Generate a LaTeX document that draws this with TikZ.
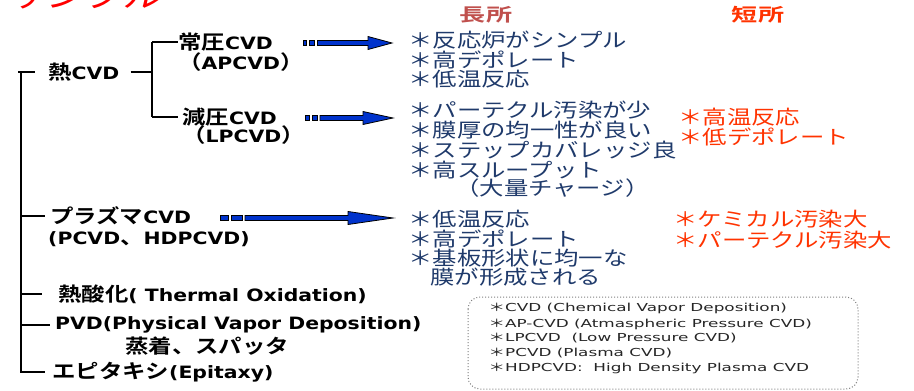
\documentclass[tikz,border=0pt]{standalone}
\usepackage{fontspec}
\setmainfont{DejaVu Sans}
\newfontfamily\jpf{Noto Sans CJK JP}[BoldFont={Noto Sans CJK JP Bold}]
\usetikzlibrary{calc}
\definecolor{navy}{HTML}{1F3A6B}
\definecolor{hdrred}{HTML}{C0504D}
\definecolor{orred}{HTML}{FF3300}
\definecolor{arrblue}{HTML}{0033CC}
\definecolor{boxgray}{HTML}{808080}
\newcommand\jb[1]{{\jpf\fontsize{19.5}{17}\selectfont #1}}
\tikzset{
  tree/.style={line width=1.4pt, draw=black},
  lbl/.style={anchor=west, inner sep=0pt, font=\fontsize{17}{17}\selectfont\bfseries, xscale=1.2},
  good/.style={anchor=west, inner sep=0pt, text=navy, font=\fontsize{19.5}{19.5}\selectfont\jpf, xscale=1.25},
  bad/.style={good, text=orred},
  hdr/.style={inner sep=0pt, font=\fontsize{18}{18}\selectfont\jpf\bfseries, xscale=1.45},
  note/.style={anchor=west, inner sep=0pt, text=black!85, font=\fontsize{11}{11}\selectfont, xscale=1.53},
  arrfill/.style={fill=arrblue, draw=black, line width=0.8pt},
}
\newcommand\fatarrow[5]{%
  \filldraw[arrfill] ($(#1)+(0,-2.5)$) rectangle ($(#1)+(#3,2.5)$);
  \filldraw[arrfill] ($(#1)+({#3+3},-2.5)$) rectangle ($(#1)+({#3+3+#4},2.5)$);
  \filldraw[arrfill] ($(#1)+({#3+#4+6},-2.5)$) -- ($(#2)+(-#5,-2.5)$) -- ($(#2)+(-#5,-6.5)$) -- (#2)
     -- ($(#2)+(-#5,6.5)$) -- ($(#2)+(-#5,2.5)$) -- ($(#1)+({#3+#4+6},2.5)$) -- cycle;}
\begin{document}
\begin{tikzpicture}[x=1pt,y=-1pt]
\useasboundingbox (0,0) rectangle (914,391);
\clip (0,0) rectangle (914,391);
\fill[white] (0,0) rectangle (914,391);

% partially visible title
\node[anchor=base west, inner sep=0pt, text=red, font=\fontsize{34}{34}\selectfont\jpf, xscale=1.15, xslant=0.2] (title) at (6,7) {サンプル};

% headers
\node[hdr, text=hdrred] (pros) at (486,15) {長所};
\node[hdr, text=orred] (cons) at (758,15) {短所};

% tree labels
\node[lbl] (thermal) at (48,72) {\jb{熱}CVD};
\node[lbl] (ap) at (178,42) {\jb{常圧}CVD};
\node[lbl] (apsub) at (178,62) {\jb{（}APCVD\jb{）}};
\node[lbl] (lp) at (182,117) {\jb{減圧}CVD};
\node[lbl] (lpsub) at (182,135) {\jb{（}LPCVD\jb{）}};
\node[lbl] (plasma) at (50,216) {\jb{プラズマ}CVD};
\node[lbl] (plsub) at (48,239) {(PCVD\jb{、}HDPCVD)};
\node[lbl] (oxid) at (58,294) {\jb{熱酸化}( Thermal Oxidation)};
\node[lbl] (pvd) at (55,325) {PVD(Physical Vapor Deposition)};
\node[lbl] (pvdsub) at (125,346) {\jb{蒸着、スパッタ}};
\node[lbl] (epi) at (52,372) {\jb{エピタキシ}(Epitaxy)};

% tree lines
\coordinate (trunk) at (21,72);
\coordinate (branch) at (152,72);
\draw[tree] (trunk) -- (trunk |- epi.west) -- ([xshift=-7pt]epi.west);
\draw[tree] ([xshift=-3pt]trunk) -- ([xshift=-13pt]thermal.west);
\draw[tree] (trunk |- plasma.west) -- ([xshift=-5pt]plasma.west);
\draw[tree] (trunk |- oxid.west) -- ([xshift=-16pt]oxid.west);
\draw[tree] (trunk |- pvd.west) -- ([xshift=-5pt]pvd.west);
\draw[tree] ([xshift=11pt]thermal.east) -- (branch);
\draw[tree] (branch |- ap.west) -- (branch |- lp.west);
\draw[tree] (branch |- ap.west) -- (ap.west);
\draw[tree] (branch |- lp.west) -- ([xshift=-4pt]lp.west);

% arrows
\coordinate (a1s) at (303,43); \coordinate (a1e) at (392,43);
\coordinate (a2s) at (305,118); \coordinate (a2e) at (393,118);
\coordinate (a3s) at (220,218); \coordinate (a3e) at (393,218);
\fatarrow{a1s}{a1e}{3.5}{5}{24}
\fatarrow{a2s}{a2e}{4}{5}{30}
\fatarrow{a3s}{a3e}{8}{11}{45}

% advantages
\node[good] (g1) at (408,40) {＊反応炉がシンプル};
\node[good] (g2) at (408,60) {＊高デポレート};
\node[good] (g3) at (408,79) {＊低温反応};
\node[good] (g4) at (408,110) {＊パーテクル汚染が少};
\node[good] (g5) at (408,130) {＊膜厚の均一性が良い};
\node[good] (g6) at (408,150) {＊ステップカバレッジ良};
\node[good] (g7) at (408,170) {＊高スループット};
\node[good] (g8) at (455,188) {（大量チャージ）};
\node[good] (g9) at (408,219) {＊低温反応};
\node[good] (g10) at (408,239) {＊高デポレート};
\node[good] (g11) at (408,258) {＊基板形状に均一な};
\node[good] (g12) at (430,277) {膜が形成される};

% disadvantages
\node[bad] (b1) at (678,117) {＊高温反応};
\node[bad] (b2) at (678,137) {＊低デポレート};
\node[bad] (b3) at (673,219) {＊ケミカル汚染大};
\node[bad] (b4) at (673,240) {＊パーテクル汚染大};

% glossary box
\draw[boxgray, dotted, line width=1pt, rounded corners=12pt] (468,297) rectangle (858,389);
\node[note] (n1) at (488,308) {{\jpf ＊}CVD (Chemical Vapor Deposition)};
\node[note] (n2) at (488,324) {{\jpf ＊}AP-CVD (Atmaspheric Pressure CVD)};
\node[note] (n3) at (488,338) {{\jpf ＊}LPCVD\ \ (Low Pressure CVD)};
\node[note] (n4) at (488,353) {{\jpf ＊}PCVD (Plasma CVD)};
\node[note] (n5) at (488,368) {{\jpf ＊}HDPCVD:\ \ High Density Plasma CVD};
\end{tikzpicture}
\end{document}
